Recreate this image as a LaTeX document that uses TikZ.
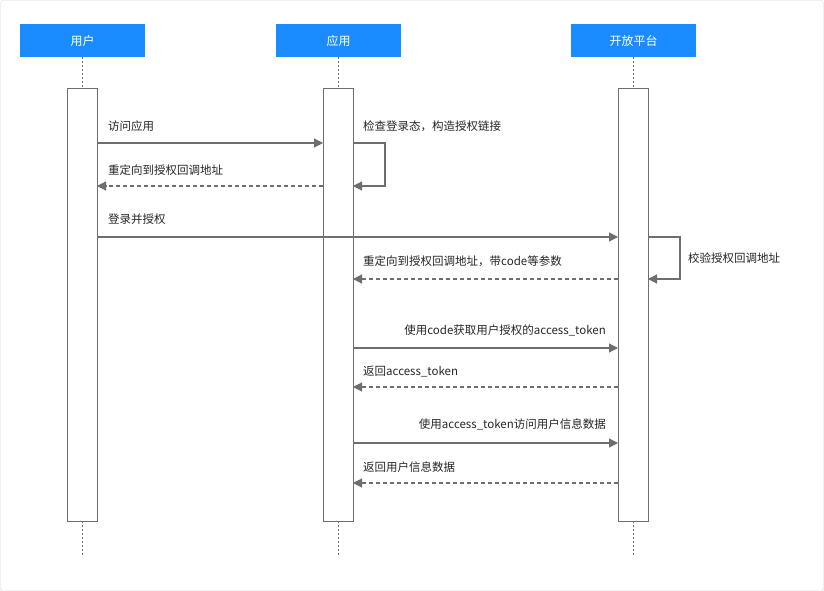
\documentclass[tikz,border=0pt]{standalone}
\usepackage{fontspec}
\setmainfont{Noto Sans CJK SC}
\usetikzlibrary{arrows.meta}
\definecolor{hdr}{HTML}{1A8CFF}
\definecolor{ln}{HTML}{6E6E6E}
\begin{document}
\begin{tikzpicture}[x=1pt,y=-1pt,
  hdr/.style={fill=hdr,draw=none,minimum width=125pt,minimum height=33pt,text=white,font=\fontsize{12}{14}\selectfont,inner sep=0pt},
  act/.style={draw=ln,fill=white,line width=0.7pt,minimum width=30pt,minimum height=433pt,inner sep=0pt},
  life/.style={draw=ln,dash pattern=on 2pt off 2pt,line width=0.5pt},
  msg/.style={draw=ln,line width=1.2pt,-{Triangle[length=9pt,width=9pt]}},
  ret/.style={msg,dash pattern=on 4pt off 3pt},
  lbl/.style={font=\fontsize{11.5}{13}\selectfont,text=black!85,inner sep=0pt}]
\draw[black!15,rounded corners=2pt,fill=white] (0.5,0.5) rectangle (823.5,590.5);
\useasboundingbox (0,0) rectangle (824,591);
\foreach \n/\x/\t in {u/82.5/用户,a/338.5/应用,p/633.5/开放平台}{
  \node[hdr] (h\n) at (\x,40.5) {\t};
  \draw[life] (h\n.south) -- (\x,88);
  \draw[life] (\x,521) -- (\x,557);
  \node[act] (b\n) at (\x,304.5) {};
}
% coordinates
\coordinate (u1) at (97,143); \coordinate (a1) at (323,143);
\coordinate (as1) at (353,143); \coordinate (as2) at (353,186);
\coordinate (a3) at (323,186); \coordinate (u3) at (97,186);
\coordinate (u4) at (97,237); \coordinate (p4) at (618,237);
\coordinate (ps1) at (648,237); \coordinate (ps2) at (648,279);
\coordinate (p6) at (618,279); \coordinate (a6) at (353,279);
\coordinate (a7) at (353,348); \coordinate (p7) at (618,348);
\coordinate (p8) at (618,387); \coordinate (a8) at (353,387);
\coordinate (a9) at (353,443); \coordinate (p9) at (618,443);
\coordinate (p10) at (618,483); \coordinate (a10) at (353,483);
\draw[msg] (u1) -- (a1);
\node[lbl,anchor=west] (l1) at (108,126) {访问应用};
\draw[msg] (as1) -- ++(32,0) |- (as2);
\node[lbl,anchor=west] (l2) at (363,126) {检查登录态，构造授权链接};
\draw[ret] (a3) -- (u3);
\node[lbl,anchor=west] (l3) at (108,170) {重定向到授权回调地址};
\draw[msg] (u4) -- (p4);
\node[lbl,anchor=west] (l4) at (108,219) {登录并授权};
\draw[msg] (ps1) -- ++(32,0) |- (ps2);
\node[lbl,anchor=west] (l5) at (688,258) {校验授权回调地址};
\draw[ret] (p6) -- (a6);
\node[lbl,anchor=west] (l6) at (363,261) {重定向到授权回调地址，带code等参数};
\draw[msg] (a7) -- (p7);
\node[lbl,anchor=east] (l7) at (606,330) {使用code获取用户授权的access\_token};
\draw[ret] (p8) -- (a8);
\node[lbl,anchor=west] (l8) at (363,372) {返回access\_token};
\draw[msg] (a9) -- (p9);
\node[lbl,anchor=east] (l9) at (606,424) {使用access\_token访问用户信息数据};
\draw[ret] (p10) -- (a10);
\node[lbl,anchor=west] (l10) at (363,467) {返回用户信息数据};
\end{tikzpicture}
\end{document}
